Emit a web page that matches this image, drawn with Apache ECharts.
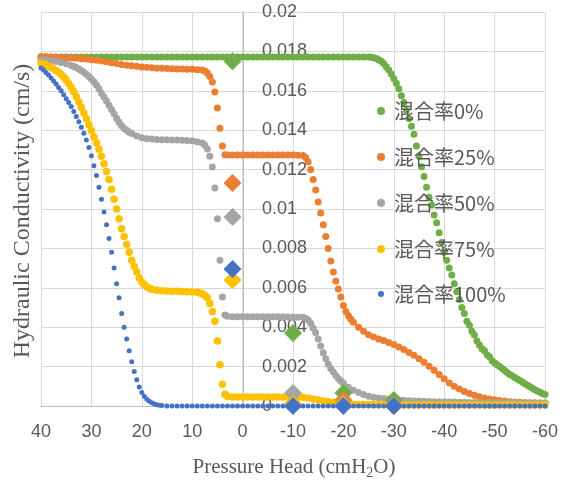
<!DOCTYPE html>
<html>
<head>
<meta charset="utf-8">
<script src="https://cdn.jsdelivr.net/npm/echarts@6/dist/echarts.min.js"></script>
<style>
  html, body { margin: 0; padding: 0; background: #fff; }
  #chart { width: 569px; height: 482px; }
</style>
</head>
<body>
<div id="chart"></div>
<script>
// legend names
const names = ['混合率0%', '混合率25%', '混合率50%', '混合率75%', '混合率100%'];

// fitted curves: [pressure head (cmH2O), K (cm/s)]
const k0 = [
  [40,.01772],[39,.01772],[38,.01772],[37,.01772],[36,.01772],[35,.01772],[34,.01772],[33,.01772],[32,.01772],[31,.01772],
  [30,.01772],[29,.01772],[28,.01772],[27,.01772],[26,.01772],[25,.01772],[24,.01772],[23,.01772],[22,.01772],[21,.01772],
  [20,.01772],[19,.01772],[18,.01772],[17,.01772],[16,.01772],[15,.01772],[14,.01772],[13,.01772],[12,.01772],[11,.01772],
  [10,.01772],[9,.01772],[8,.01772],[7,.01772],[6,.01772],[5,.01772],[4,.01772],[3,.01772],[2,.01772],[1,.01772],
  [0,.01772],[-1,.01772],[-2,.01772],[-3,.01772],[-4,.01772],[-5,.01772],[-6,.01772],[-7,.01772],[-8,.01772],[-9,.01772],
  [-10,.01772],[-11,.01772],[-12,.01772],[-13,.01772],[-14,.01772],[-15,.01772],[-16,.01772],[-17,.01772],[-18,.01772],[-19,.01772],
  [-20,.01772],[-21,.01772],[-22,.01772],[-23,.01772],[-24,.01772],[-25,.01771],
  [-25.5,.0177],[-26,.01768],[-26.5,.01764],[-27,.01758],[-27.5,.0175],[-28,.01738],[-28.5,.01722],[-29,.01705],[-29.5,.01685],
  [-30,.01662],[-30.5,.01638],[-31,.0161],[-31.5,.01575],[-32,.0154],[-32.5,.015],[-33,.0146],[-33.5,.0142],[-34,.0138],
  [-34.5,.0132],[-35,.01268],[-35.5,.01215],[-36,.01165],[-36.5,.0111],[-37,.0106],[-37.5,.0102],[-38,.0097],[-38.5,.0093],
  [-39,.0088],[-39.5,.0083],[-40,.0078],[-40.5,.0074],[-41,.007],[-41.5,.00665],[-42,.0062],[-42.5,.0058],[-43,.0054],
  [-43.5,.005],[-44,.0047],[-44.5,.0043],[-45,.0041],[-45.5,.0038],[-46,.0036],[-46.5,.0033],[-47,.0031],[-47.5,.0029],
  [-48,.0028],[-48.5,.0026],[-49,.0025],[-49.5,.0023],[-50,.0022],[-50.5,.0021],[-51,.002],[-51.5,.0019],[-52,.0018],
  [-52.5,.0017],[-53,.0016],[-53.5,.00153],[-54,.00145],[-54.5,.00137],[-55,.0013],[-55.5,.00122],[-56,.00113],
  [-56.5,.00105],[-57,.00098],[-57.5,.0009],[-58,.00083],[-58.5,.00076],[-59,.0007],[-59.5,.00064],[-60,.00058]
];
const k25 = [
  [40,.01774],[39,.01773],[38,.01771],[37,.0177],[36,.01768],[35,.01767],[34,.01766],[33,.01765],[32,.01763],[31,.01761],
  [30,.01758],[29,.01755],[28,.01751],[27,.01747],[26,.01743],[25,.01739],[24,.01734],[23,.0173],[22,.01727],[21,.01724],
  [20,.01721],[19,.01719],[18,.01717],[17,.01715],[16,.01714],[15,.01713],[14,.01712],[13,.01711],[12,.01711],[11,.0171],
  [10,.01709],[9,.01707],[8,.01705],
  [7.5,.017],[7,.0169],[6.5,.01672],[6,.01645],[5.5,.01594],[5,.01513],[4.5,.0141],[4,.0132],[3.5,.01276],[3,.01274],
  [2,.01274],[1,.01274],[0,.01274],[-1,.01274],[-2,.01274],[-3,.01274],[-4,.01274],[-5,.01274],[-6,.01274],[-7,.01274],
  [-8,.01274],[-9,.01274],[-10,.01274],[-11,.01273],[-12,.01272],
  [-12.5,.01262],[-13,.0124],[-13.5,.012],[-14,.0115],[-14.5,.01096],[-15,.01036],[-15.5,.0098],[-16,.0092],[-16.5,.0086],
  [-17,.008],[-17.5,.00736],[-18,.0068],[-18.5,.00635],[-19,.00594],[-19.5,.00553],[-20,.0051],[-20.5,.0048],[-21,.00458],
  [-21.5,.0044],[-22,.00425],
  [-23,.004],[-24,.0038],[-25,.00362],[-26,.0035],[-27,.0034],[-28,.00332],[-29,.00322],[-30,.00312],[-31,.003],[-32,.00287],
  [-33,.00272],[-34,.00257],[-35,.0024],[-36,.00222],[-37,.00202],[-38,.00182],[-39,.0016],[-40,.00138],[-41,.00117],[-42,.001],
  [-43,.00086],[-44,.00073],[-45,.00063],[-46,.00054],[-47,.00047],[-48,.00041],[-49,.00036],[-50,.00032],[-51,.00028],[-52,.00025],
  [-53,.00022],[-54,.0002],[-55,.00019],[-56,.00018],[-57,.00017],[-58,.00016],[-59,.00015],[-60,.00015]
];
const k50 = [
  [40,.01758],[39,.01756],[38,.01753],[37,.01749],[36,.01744],[35,.01737],[34,.01728],
  [33.5,.01723],[33,.01718],[32.5,.01711],[32,.01703],[31.5,.01694],[31,.01684],[30.5,.01673],[30,.0166],[29.5,.01646],
  [29,.0163],[28.5,.0161],[28,.01588],[27.5,.01568],[27,.01548],[26.5,.01527],[26,.01505],[25.5,.01483],[25,.0146],
  [24.5,.0144],[24,.01422],[23.5,.01409],[23,.014],[22.5,.0139],[22,.01383],
  [21,.0137],[20,.01362],[19,.01357],[18,.01355],[17,.01353],[16,.01352],[15,.01351],[14,.0135],[13,.0135],[12,.01349],
  [11,.01348],[10,.01346],[9,.01342],[8,.01335],
  [7.5,.01325],[7,.01305],[6.5,.01268],[6,.01213],[5.5,.01107],[5,.0095],[4.5,.0074],[4,.00553],[3.5,.00462],[3,.00455],
  [2,.00453],[1,.00453],[0,.00453],[-1,.00453],[-2,.00453],[-3,.00453],[-4,.00453],[-5,.00453],[-6,.00453],[-7,.00453],
  [-8,.00453],[-9,.00452],[-10,.00452],[-11,.00451],[-12,.0045],
  [-12.5,.00445],[-13,.00437],[-13.5,.0042],[-14,.00395],[-14.5,.00372],[-15,.0034],[-15.5,.00305],[-16,.0027],[-16.5,.0024],
  [-17,.00212],[-17.5,.0019],[-18,.00172],[-18.5,.00155],[-19,.0014],[-19.5,.00127],[-20,.00115],
  [-21,.00095],[-22,.0008],[-23,.00068],[-24,.00058],[-25,.0005],[-26,.00045],[-27,.00041],[-28,.00038],[-29,.00035],[-30,.00033],
  [-31,.00031],[-32,.00029],[-33,.00027],[-34,.00026],[-35,.00025],[-36,.00024],[-37,.00023],[-38,.00022],[-39,.00021],[-40,.00021],
  [-41,.0002],[-42,.0002],[-43,.00019],[-44,.00019],[-45,.00018],[-46,.00018],[-47,.00018],[-48,.00017],[-49,.00017],[-50,.00017],
  [-51,.00016],[-52,.00016],[-53,.00016],[-54,.00016],[-55,.00015],[-56,.00015],[-57,.00015],[-58,.00015],[-59,.00015],[-60,.00015]
];
const k75 = [
  [40,.0174],[39.5,.01736],[39,.01731],[38.5,.01725],[38,.01718],[37.5,.01711],[37,.01703],[36.5,.01694],[36,.01683],
  [35.5,.0167],[35,.01655],[34.5,.01637],[34,.01617],[33.5,.01595],[33,.0157],[32.5,.01543],[32,.01515],[31.5,.01487],
  [31,.01458],[30.5,.01428],[30,.01398],[29.5,.01367],[29,.01336],[28.5,.01303],[28,.01268],[27.5,.0123],[27,.0119],
  [26.5,.0115],[26,.011],[25.5,.0105],[25,.01],[24.5,.0095],[24,.009],[23.5,.0086],[23,.0082],[22.5,.0078],[22,.0074],
  [21.5,.0071],[21,.0068],[20.5,.0065],[20,.0063],[19.5,.00615],[19,.00605],[18.5,.00598],
  [18,.00593],[17,.00588],[16,.00585],[15,.00584],[14,.00583],[13,.00582],[12,.00581],[11,.0058],[10,.00579],[9,.00577],
  [8.5,.00574],[8,.0057],[7.5,.00562],[7,.0055],[6.5,.0052],[6,.0048],[5.5,.0043],[5,.0033],[4.5,.0021],[4,.0011],
  [3.5,.0006],[3,.00048],
  [2,.00046],[1,.00046],[0,.00046],[-1,.00046],[-2,.00046],[-3,.00046],[-4,.00046],[-5,.00046],[-6,.00046],[-7,.00046],
  [-8,.00046],[-9,.00046],[-10,.00046],[-11,.00045],[-12,.00044],[-13,.0004],[-14,.00035],[-15,.0003],[-16,.00026],[-17,.00022],
  [-18,.00019],[-19,.00015],[-20,.00012],[-21,.0001],[-22,.00009],[-23,.00008],[-24,.00007],[-25,.00007],[-26,.00007],[-27,.00006],
  [-28,.00006],[-29,.00006],[-30,.00006],[-31,.00005],[-32,.00005],[-33,.00005],[-34,.00005],[-35,.00005],[-36,.00005],[-37,.00005],
  [-38,.00005],[-39,.00005],[-40,.00005],[-41,.00005],[-42,.00005],[-43,.00005],[-44,.00005],[-45,.00005],[-46,.00005],[-47,.00005],
  [-48,.00005],[-49,.00005],[-50,.00005],[-51,.00005],[-52,.00005],[-53,.00005],[-54,.00005],[-55,.00005],[-56,.00005],[-57,.00005],
  [-58,.00005],[-59,.00005],[-60,.00005]
];
const k100 = [
  [40,.01716],[39.5,.01705],[39,.01693],[38.5,.0168],[38,.01665],[37.5,.0165],[37,.01634],[36.5,.01617],[36,.016],
  [35.5,.0158],[35,.0156],[34.5,.0154],[34,.0152],[33.5,.01495],[33,.0147],[32.5,.01443],[32,.01415],[31.5,.01385],
  [31,.0135],[30.5,.01312],[30,.0127],[29.5,.0122],[29,.0117],[28.5,.0111],[28,.0105],[27.5,.00985],[27,.0092],
  [26.5,.0085],[26,.0078],[25.5,.007],[25,.0062],[24.5,.0055],[24,.0047],[23.5,.004],[23,.0034],[22.5,.0028],
  [22,.00225],[21.5,.00175],[21,.00133],[20.5,.00097],[20,.00068],[19.5,.00048],[19,.00034],[18.5,.00024],[18,.00016],
  [17.5,.0001],[17,.00006],[16.5,.00004],[16,.00002],
  [15,0],[14,0],[13,0],[12,0],[11,0],[10,0],[9,0],[8,0],[7,0],[6,0],[5,0],[4,0],[3,0],[2,0],[1,0],[0,0],
  [-1,0],[-2,0],[-3,0],[-4,0],[-5,0],[-6,0],[-7,0],[-8,0],[-9,0],[-10,0],[-11,0],[-12,0],[-13,0],[-14,0],[-15,0],
  [-16,0],[-17,0],[-18,0],[-19,0],[-20,0],[-21,0],[-22,0],[-23,0],[-24,0],[-25,0],[-26,0],[-27,0],[-28,0],[-29,0],[-30,0],
  [-31,0],[-32,0],[-33,0],[-34,0],[-35,0],[-36,0],[-37,0],[-38,0],[-39,0],[-40,0],[-41,0],[-42,0],[-43,0],[-44,0],[-45,0],
  [-46,0],[-47,0],[-48,0],[-49,0],[-50,0],[-51,0],[-52,0],[-53,0],[-54,0],[-55,0],[-56,0],[-57,0],[-58,0],[-59,0],[-60,0]
];

// measured points (diamonds)
const m0 = [[2,.0175],[-10,.0037],[-20,.00066],[-30,.0003]];
const m25 = [[2,.01132],[-10,.0001],[-20,.0003],[-30,.00005]];
const m50 = [[2,.0096],[-10,.00066],[-20,.0001],[-30,.00005]];
const m75 = [[2,.0064],[-10,.0001],[-20,.00005],[-30,0]];
const m100 = [[2,.00695],[-10,0],[-20,0],[-30,0]];

const curves = [k0, k25, k50, k75, k100];
const measured = [m0, m25, m50, m75, m100];
const colors = ['#70AD47', '#ED7D31', '#A5A5A5', '#FFC000', '#4472C4'];
const dotSize = [7, 7, 7, 7.5, 5];

const chart = echarts.init(document.getElementById('chart'));

let series = [];
curves.forEach((d, i) => {
  series.push({
    name: names[i],
    type: 'scatter',
    data: d,
    symbol: 'circle',
    symbolSize: dotSize[i],
    itemStyle: { color: colors[i], opacity: 1 },
    z: 2
  });
});
measured.forEach((d, i) => {
  series.push({
    name: 'm' + i,
    type: 'scatter',
    data: d,
    symbol: 'diamond',
    symbolSize: 18,
    itemStyle: { color: colors[i], opacity: 1 },
    z: 3
  });
});

const legendText = {
  fontSize: 20,
  color: '#595959',
  fontFamily: 'Noto Sans CJK JP',
  lineHeight: 20,
  padding: [0, 0, 0, 4]
};

chart.setOption({
  animation: false,
  color: colors,
  grid: { left: 41, right: 24, top: 12, bottom: 76 },
  legend: [
    {
      data: names.slice(0, 4),
      orient: 'vertical',
      left: 372, top: 96,
      icon: 'circle',
      itemWidth: 8, itemHeight: 8,
      itemGap: 26,
      textStyle: legendText
    },
    {
      data: names.slice(4),
      orient: 'vertical',
      left: 373, top: 279,
      icon: 'circle',
      itemWidth: 6, itemHeight: 6,
      textStyle: Object.assign({}, legendText, { padding: [0, 0, 0, 5] })
    }
  ],
  xAxis: {
    type: 'value',
    min: -60, max: 40, interval: 10,
    inverse: true,
    axisLine: { show: true, lineStyle: { color: '#bfbfbf' } },
    axisTick: { show: false },
    axisLabel: { color: '#595959', fontSize: 18, fontFamily: 'Liberation Sans', margin: 17 },
    splitLine: { lineStyle: { color: '#d9d9d9' } }
  },
  yAxis: {
    type: 'value',
    position: 'left',
    offset: -202,   // axis sits at pressure head 0
    min: 0, max: 0.02, interval: 0.002,
    axisLine: { show: true, onZero: false, lineStyle: { color: '#bfbfbf' } },
    axisTick: { show: false },
    axisLabel: { inside: true, margin: 19, color: '#595959', fontSize: 18, fontFamily: 'Liberation Sans' },
    splitLine: { lineStyle: { color: '#d9d9d9' } }
  },
  graphic: [
    {
      type: 'text', x: 23, y: 211, rotation: Math.PI / 2,
      style: {
        text: 'Hydraulic Conductivity (cm/s)',
        fontSize: 24, fontFamily: 'Liberation Serif', fill: '#595959',
        align: 'center', verticalAlign: 'middle'
      }
    },
    {
      type: 'text', x: 294, y: 467,
      style: {
        text: '{a|Pressure Head (cmH}{b|2}{a|O)}',
        align: 'center', verticalAlign: 'middle',
        rich: {
          a: { fontSize: 21, fontFamily: 'Liberation Serif', fill: '#595959', lineHeight: 26 },
          b: { fontSize: 14, fontFamily: 'Liberation Serif', fill: '#595959', lineHeight: 14, verticalAlign: 'bottom' }
        }
      }
    }
  ],
  series: series
});
</script>
</body>
</html>
